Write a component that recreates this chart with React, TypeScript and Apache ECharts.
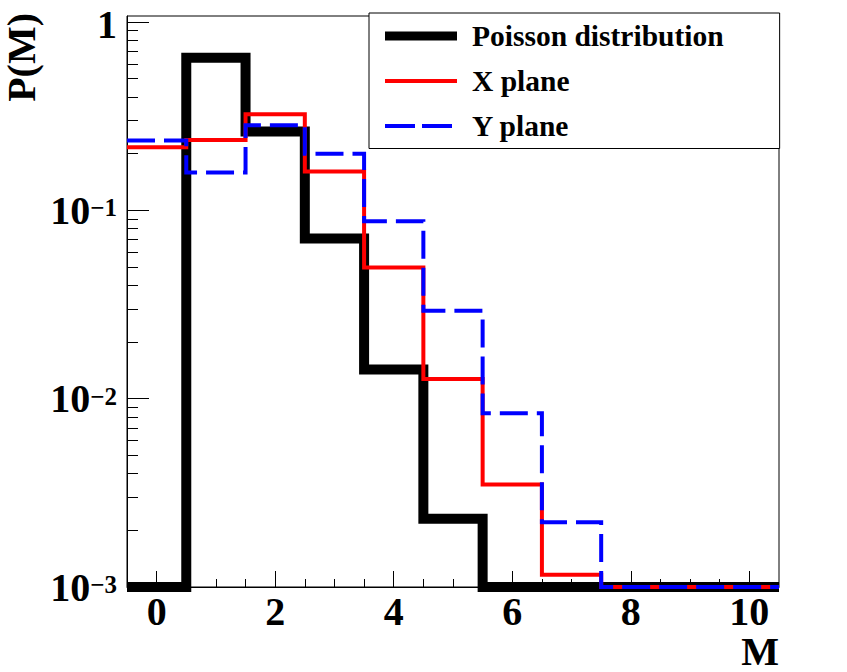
import React, { useEffect, useRef } from 'react';
import * as echarts from 'echarts';

// ---- data ----
const M = [0, 1, 2, 3, 4, 5, 6, 7, 8, 9, 10];
const POISSON = [0, 0.645, 0.262, 0.0708, 0.0143, 0.0023, 0, 0, 0, 0, 0];
const X_PLANE = [0.216, 0.236, 0.324, 0.161, 0.0497, 0.0127, 0.0035, 0.00116, 0, 0, 0];
const Y_PLANE = [0.235, 0.159, 0.283, 0.2, 0.0875, 0.0293, 0.00836, 0.00221, 0, 0, 0];
const SERIES_NAMES = ['Poisson distribution', 'X plane', 'Y plane'];

const X_MAJOR = [0, 2, 4, 6, 8, 10];
const X_MINOR = [0.5, 1, 1.5, 2.5, 3, 3.5, 4.5, 5, 5.5, 6.5, 7, 7.5, 8.5, 9, 9.5];
const Y_MAJOR = [0.001, 0.01, 0.1, 1];
const Y_MINOR_MULT = [2, 3, 4, 5, 6, 7, 8, 9];
const Y_DECADES = [0.001, 0.01, 0.1];

const X_MIN = -0.5;
const X_MAX = 10.5;
const Y_MIN = 0.001;
const Y_MAX = 1.076;

const FONT = "'Liberation Serif', 'Times New Roman', serif";

function toStep(vals: number[]) {
  const pts: [number, number][] = M.map((m, i) => [m - 0.5, vals[i] > 0 ? vals[i] : Y_MIN]);
  const last = vals[vals.length - 1];
  pts.push([M[M.length - 1] + 0.5, last > 0 ? last : Y_MIN]);
  return pts;
}

export default function App() {
  const ref = useRef<HTMLDivElement>(null);
  useEffect(() => {
    document.body.style.margin = '0';
    if (!ref.current) return;
    const chart = echarts.init(ref.current, undefined, { renderer: 'svg' });
    const yMinor: number[] = [];
    Y_DECADES.forEach((d) => Y_MINOR_MULT.forEach((k) => yMinor.push(+(d * k).toPrecision(3))));

    const yLabelFmt = (v: number) => {
      const e = Math.round(Math.log10(v));
      if (e === 0) return '{one|1}';
      return '{b|10}{e|\u2212' + -e + '}';
    };

    const axisBase = { color: '#000', fontFamily: FONT, fontWeight: 'bold' as const };
    const black = { color: '#000', width: 9, type: 'solid' };
    const red = { color: '#ff0000', width: 4, type: 'solid' };
    const blue = { color: '#0000ff', width: 4, type: [30, 7] };

    chart.setOption({
      animation: false,
      backgroundColor: '#fff',
      grid: {
        left: 127, right: 68, top: 13, bottom: 85,
        show: true, borderColor: '#000', borderWidth: 1, backgroundColor: 'transparent',
      },
      xAxis: [
        {
          type: 'value', min: X_MIN, max: X_MAX, position: 'bottom',
          axisLine: { show: true, onZero: false, lineStyle: { color: '#000', width: 1 } },
          axisTick: { show: true, inside: true, length: 16, customValues: X_MAJOR, lineStyle: { color: '#000', width: 1 } },
          axisLabel: { show: true, customValues: X_MAJOR, margin: 4, fontSize: 40, ...axisBase },
          splitLine: { show: false },
        },
        {
          type: 'value', min: X_MIN, max: X_MAX, position: 'bottom', offset: 0,
          axisLine: { show: false, onZero: false },
          axisTick: { show: true, inside: true, length: 8, customValues: X_MINOR, lineStyle: { color: '#000', width: 1 } },
          axisLabel: { show: false },
          splitLine: { show: false },
        },
      ],
      yAxis: [
        {
          type: 'log', logBase: 10, min: Y_MIN, max: Y_MAX, position: 'left',
          axisLine: { show: true, onZero: false, lineStyle: { color: '#000', width: 1 } },
          axisTick: { show: true, inside: true, length: 22, customValues: Y_MAJOR, lineStyle: { color: '#000', width: 1 } },
          axisLabel: {
            show: true, customValues: Y_MAJOR, margin: 10, formatter: yLabelFmt,
            rich: {
              one: { fontSize: 40, fontFamily: FONT, fontWeight: 'bold', color: '#000', lineHeight: 30, padding: [4, 0, 0, 0] },
              b: { fontSize: 40, fontFamily: FONT, fontWeight: 'bold', color: '#000', lineHeight: 30 },
              e: { fontSize: 25, fontFamily: FONT, fontWeight: 'bold', color: '#000', verticalAlign: 'top', lineHeight: 22 },
            },
          },
          splitLine: { show: false },
        },
        {
          type: 'log', logBase: 10, min: Y_MIN, max: Y_MAX, position: 'left', offset: 0,
          axisLine: { show: false, onZero: false },
          axisTick: { show: true, inside: true, length: 11, customValues: yMinor, lineStyle: { color: '#000', width: 1 } },
          axisLabel: { show: false },
          splitLine: { show: false },
        },
      ],
      legend: {
        show: true, orient: 'vertical', left: 369, top: 13,
        itemWidth: 72, itemHeight: 45, itemGap: 0,
        padding: [0.5, 56, 0, 11.5],
        borderColor: '#000', borderWidth: 1, backgroundColor: '#fff',
        selectedMode: false,
        data: [
          { name: SERIES_NAMES[0], lineStyle: black },
          { name: SERIES_NAMES[1], lineStyle: red },
          { name: SERIES_NAMES[2], lineStyle: blue },
        ],
        itemStyle: { opacity: 0, borderWidth: 0 },
        textStyle: { fontSize: 29.5, lineHeight: 45, padding: [0, 0, 0, 10], ...axisBase },
      },
      graphic: [
        {
          type: 'text', x: 21, y: 13, rotation: Math.PI / 2,
          style: { text: 'P(M)', font: `bold 40px ${FONT}`, fill: '#000', align: 'right', verticalAlign: 'middle', lineHeight: 34 },
        },
        {
          type: 'text', x: 779, y: 651,
          style: { text: 'M', font: `bold 40px ${FONT}`, fill: '#000', align: 'right', verticalAlign: 'middle', lineHeight: 30 },
        },
      ],
      series: [
        {
          name: SERIES_NAMES[0], type: 'line', step: 'end', symbol: 'none', clip: false,
          data: toStep(POISSON), z: 2,
          lineStyle: { color: '#000', width: 10, cap: 'butt', join: 'miter' },
          itemStyle: { color: '#000' },
        },
        {
          name: SERIES_NAMES[1], type: 'line', step: 'end', symbol: 'none', clip: false,
          data: toStep(X_PLANE), z: 3,
          lineStyle: { color: '#ff0000', width: 4, cap: 'butt', join: 'miter' },
          itemStyle: { color: '#ff0000' },
        },
        {
          name: SERIES_NAMES[2], type: 'line', step: 'end', symbol: 'none', clip: false,
          data: toStep(Y_PLANE), z: 4,
          lineStyle: { color: '#0000ff', width: 4, type: [28, 9], cap: 'butt', join: 'miter' },
          itemStyle: { color: '#0000ff' },
        },
      ],
    });
    return () => chart.dispose();
  }, []);
  return <div ref={ref} style={{ width: 847, height: 672 }} />;
}
